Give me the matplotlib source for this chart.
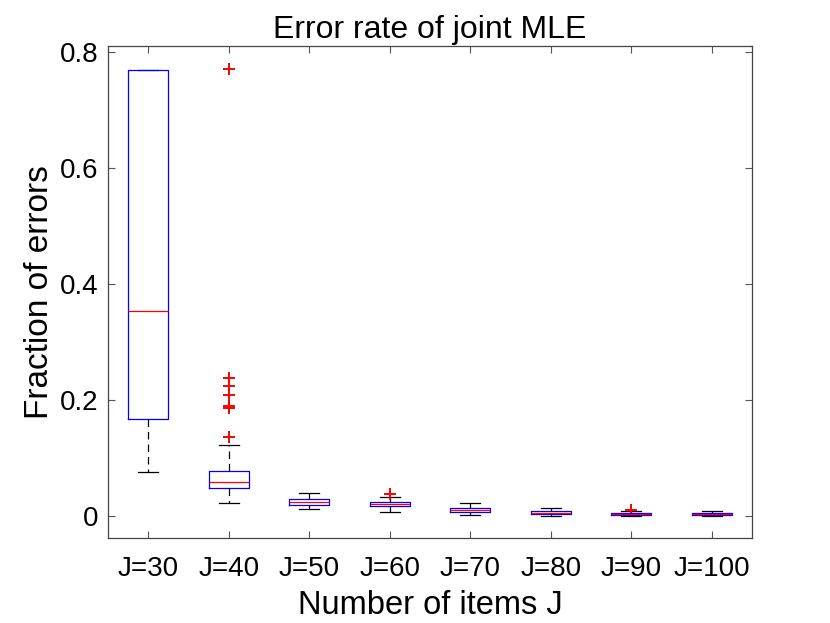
import matplotlib

matplotlib.use("Agg")
import matplotlib.pyplot as plt

plt.rcParams["font.family"] = ["Liberation Sans", "DejaVu Sans"]

# box statistics
labels = ["J=30", "J=40", "J=50", "J=60", "J=70", "J=80", "J=90", "J=100"]
q1 = [0.167, 0.048, 0.019, 0.017, 0.0075, 0.004, 0.0025, 0.001]
med = [0.353, 0.058, 0.024, 0.020, 0.010, 0.006, 0.004, 0.003]
q3 = [0.770, 0.078, 0.029, 0.024, 0.013, 0.008, 0.0057, 0.005]
whislo = [0.0765, 0.023, 0.012, 0.007, 0.001, 0.0, 0.0, 0.0]
whishi = [0.770, 0.123, 0.039, 0.032, 0.022, 0.013, 0.008, 0.008]
fliers = [
    [],
    [0.771, 0.238, 0.225, 0.208, 0.190, 0.186, 0.136],
    [],
    [0.038],
    [],
    [],
    [0.010],
    [],
]

stats = [
    dict(label=lab, q1=a, med=m, q3=b, whislo=lo, whishi=hi, fliers=f)
    for lab, a, m, b, lo, hi, f in zip(labels, q1, med, q3, whislo, whishi, fliers)
]

fig = plt.figure(figsize=(8.3, 6.23), dpi=100, facecolor="white")
ax = fig.add_axes([0.1301, 0.1364, 0.7759, 0.7897])

ax.bxp(
    stats,
    positions=range(1, len(labels) + 1),
    widths=0.5,
    showfliers=True,
    boxprops=dict(color="blue", lw=0.9, zorder=3),
    medianprops=dict(color="red", lw=0.9, zorder=4),
    whiskerprops=dict(color="black", lw=0.9, ls=(0, (6, 4)), zorder=2),
    capprops=dict(color="black", lw=0.9, zorder=2),
    flierprops=dict(marker="+", markeredgecolor="red", markersize=9, markeredgewidth=1.4, ls="none"),
    capwidths=0.25,
)

ax.set_xlim(0.5, len(labels) + 0.5)
ax.set_ylim(-0.038, 0.811)
ax.set_yticks([0, 0.2, 0.4, 0.6, 0.8])
ax.set_yticklabels(["0", "0.2", "0.4", "0.6", "0.8"])
ax.set_xticks(range(1, len(labels) + 1))
ax.set_xticklabels(labels)

ax.tick_params(direction="in", top=True, right=True, labelsize=20, length=5,
               color="#555555", width=0.8)
ax.tick_params(axis="x", pad=13)
ax.tick_params(axis="y", pad=7)
for s in ax.spines.values():
    s.set_color("#444444")
    s.set_linewidth(0.9)

ax.set_title("Error rate of joint MLE", fontsize=23, pad=6)
ax.set_xlabel("Number of items J", fontsize=23.5, labelpad=6)
ax.set_ylabel("Fraction of errors", fontsize=24, labelpad=3)

fig.savefig("out.png", dpi=100, facecolor="white")
